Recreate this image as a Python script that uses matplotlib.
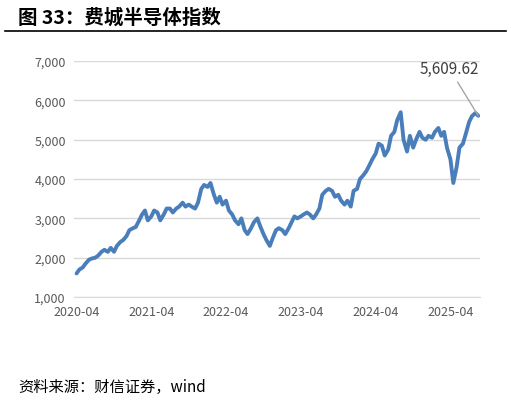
import pandas as pd
import matplotlib.pyplot as plt
import matplotlib.dates as mdates

plt.rcParams['font.family'] = ['Noto Sans CJK SC', 'DejaVu Sans']

# semi-monthly readings of the index
dates = pd.date_range('2020-04-01', '2025-08-16', freq='SMS')
values = [
    1600, 1700, 1750, 1850, 1950, 1980, 2000, 2050, 2150, 2200, 2150, 2250,
    2150, 2300, 2400, 2450, 2550, 2700, 2750, 2780, 2950, 3100, 3200, 2950,
    3050, 3200, 3150, 2950, 3100, 3250, 3250, 3150, 3250, 3300, 3400, 3300,
    3350, 3300, 3250, 3400, 3750, 3850, 3800, 3900, 3600, 3400, 3550, 3350,
    3450, 3200, 3100, 2950, 2850, 3000, 2700, 2600, 2750, 2900, 3000, 2800,
    2600, 2450, 2300, 2500, 2700, 2750, 2700, 2600, 2750, 2900, 3050, 3000,
    3050, 3100, 3150, 3100, 3000, 3100, 3250, 3600, 3700, 3750, 3700, 3550,
    3600, 3450, 3350, 3450, 3300, 3700, 3750, 4000, 4100, 4200, 4350, 4500,
    4650, 4900, 4850, 4600, 4750, 5100, 5200, 5500, 5700, 5000, 4700, 5100,
    4800, 5000, 5200, 5050, 5000, 5100, 5050, 5200, 5300, 5100, 5200, 4800,
    4500, 3900, 4300, 4800, 4900, 5150, 5450, 5600, 5680, 5609.62,
]
values = values[:len(dates)]
dates = dates[:len(values)]

fig = plt.figure(figsize=(5.11, 4.06), dpi=100)
ax = fig.add_axes([0.145, 0.266, 0.795, 0.581])

ax.plot(dates, values, color='#4a7ebb', lw=2.8, solid_capstyle='round')
ax.set_ylim(1000, 7000)
ax.set_yticks(range(1000, 7001, 1000))
ax.yaxis.set_major_formatter(plt.FuncFormatter(lambda v, p: f'{int(v):,}'))
ax.set_xlim(pd.Timestamp('2020-03-20'), pd.Timestamp('2025-08-25'))
ax.xaxis.set_major_locator(mdates.MonthLocator(bymonth=4))
ax.xaxis.set_major_formatter(mdates.DateFormatter('%Y-%m'))
ax.grid(axis='y', color='#d9d9d9', lw=1)
ax.tick_params(length=0, labelsize=9, colors='#595959', pad=6)
for s in ['top', 'right', 'left']:
    ax.spines[s].set_visible(False)
ax.spines['bottom'].set_color('#d9d9d9')

ax.annotate('5,609.62', xy=(dates[-1], values[-1]),
            xytext=(pd.Timestamp('2024-11-01'), 6700), fontsize=11,
            color='#404040', arrowprops=dict(arrowstyle='-', color='#a6a6a6', lw=1,
                                             shrinkA=2, shrinkB=0))

fig.text(0.035, 0.955, '图 33：费城半导体指数', fontsize=14, fontweight='bold', va='center')
fig.add_artist(plt.Line2D([0.01, 0.99], [0.922, 0.922], color='black', lw=1.2))
fig.text(0.035, 0.045, '资料来源：财信证券，wind', fontsize=11, style='italic', va='center')

fig.savefig('out.png', dpi=100)
